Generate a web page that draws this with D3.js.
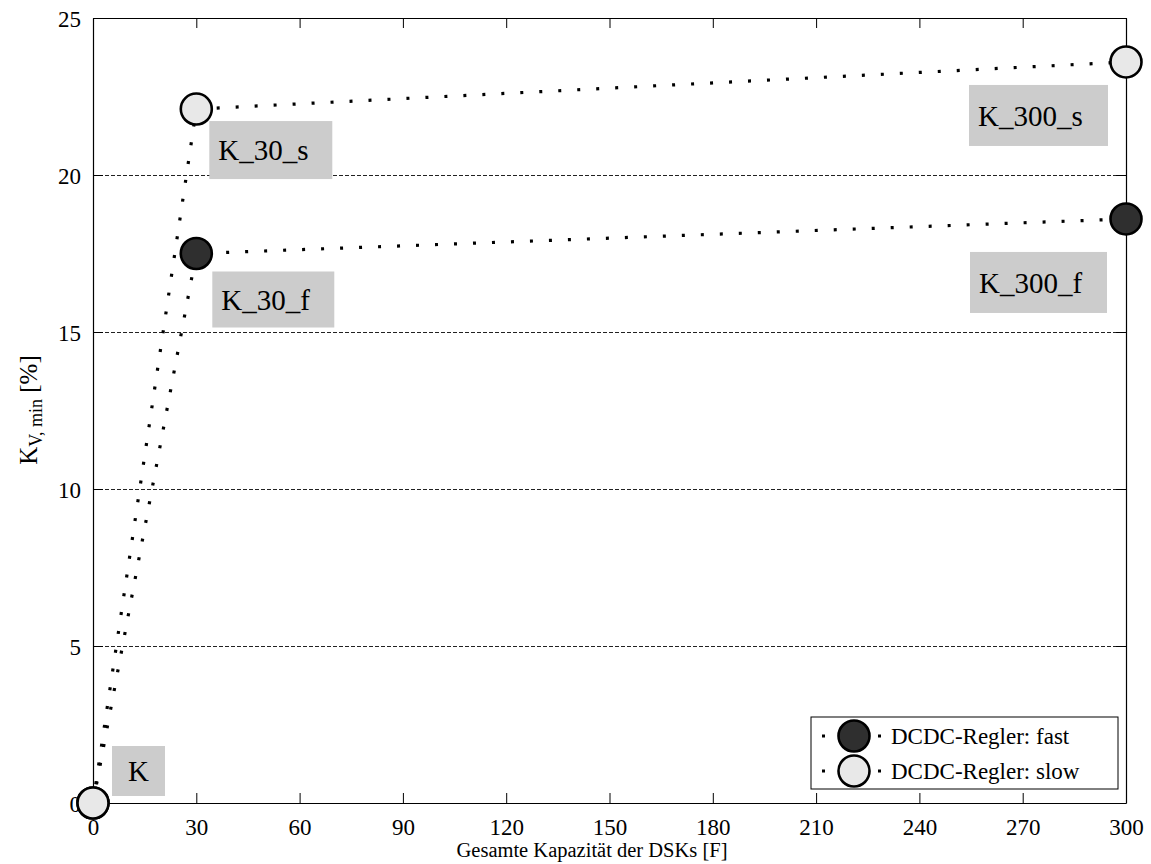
<!DOCTYPE html>
<html><head><meta charset="utf-8">
<script src="https://cdn.jsdelivr.net/npm/d3@7"></script>
<style>body{margin:0;background:#fff}svg{display:block;font-family:"Liberation Serif","Times New Roman",serif}</style>
</head><body>
<svg id="c" width="1151" height="864"></svg>
<script>
const capacities = [0, 30, 300];
const fastValues = [0, 17.5, 18.6];
const slowValues = [0, 22.1, 23.6];
const seriesNames = ["DCDC-Regler: fast", "DCDC-Regler: slow"];
const xTicks = [0, 30, 60, 90, 120, 150, 180, 210, 240, 270, 300];
const yTicks = [0, 5, 10, 15, 20, 25];
const gridValues = [5, 10, 15, 20];
const pointLabels = ["K", "K_30_s", "K_30_f", "K_300_s", "K_300_f"];
const xTitle = "Gesamte Kapazität der DSKs [F]";

(function () {
const svg = d3.select("#c");
const L = 93, R = 1126, T = 18, B = 803;
const x = d3.scaleLinear().domain([0, 300]).range([L, R]);
const y = d3.scaleLinear().domain([0, 25]).range([B, T]);

// grid
svg.append("g").selectAll("line").data(gridValues).join("line")
  .attr("x1", L).attr("x2", R).attr("y1", d => Math.round(y(d)) + 0.5).attr("y2", d => Math.round(y(d)) + 0.5)
  .attr("stroke", "#222").attr("stroke-width", 1).attr("stroke-dasharray", "4,2");

// axes
const tl = 10;
const gB = svg.append("g").attr("transform", `translate(0,${B})`)
  .call(d3.axisBottom(x).tickValues(xTicks).tickSizeInner(-tl).tickSizeOuter(0).tickPadding(16));
const gT = svg.append("g").attr("transform", `translate(0,${T})`)
  .call(d3.axisTop(x).tickValues(xTicks).tickSizeInner(-tl).tickSizeOuter(0).tickFormat(""));
const gL = svg.append("g").attr("transform", `translate(${L},0)`)
  .call(d3.axisLeft(y).tickValues(yTicks).tickSizeInner(-tl).tickSizeOuter(0).tickPadding(12));
const gR = svg.append("g").attr("transform", `translate(${R},0)`)
  .call(d3.axisRight(y).tickValues(yTicks).tickSizeInner(-tl).tickSizeOuter(0).tickFormat(""));
[gB, gT, gL, gR].forEach(g => {
  g.select(".domain").attr("stroke", "#000").attr("stroke-width", 1.2);
  g.selectAll(".tick line").attr("stroke", "#000").attr("stroke-width", 1);
  g.selectAll("text").attr("font-family", "Liberation Serif").attr("font-size", 23).attr("fill", "#000");
});
gL.selectAll(".tick text").attr("dy", "0.35em");

// titles
svg.append("text").attr("x", 592).attr("y", 857).attr("text-anchor", "middle")
  .attr("font-size", 20.5).text(xTitle);
const yt = svg.append("text").attr("transform", "translate(37,410) rotate(-90)")
  .attr("text-anchor", "middle").attr("font-size", 25);
yt.append("tspan").text("K");
yt.append("tspan").attr("font-size", 18).attr("dy", 5).text("V, min");
yt.append("tspan").attr("dy", -5).text(" [%]");

// lines
const series = [
  {name: seriesNames[0], vals: fastValues, fill: "#2f2f2f"},
  {name: seriesNames[1], vals: slowValues, fill: "#e8e8e8"}
];
const line = d3.line().x(d => x(d[0])).y(d => y(d[1]));
series.forEach(s => {
  svg.append("path").datum(capacities.map((c, i) => [c, s.vals[i]]))
    .attr("d", line).attr("fill", "none").attr("stroke", "#000")
    .attr("stroke-width", 3.2).attr("stroke-dasharray", "3,16");
});
series.forEach(s => {
  svg.append("g").selectAll("circle").data(capacities.map((c, i) => [c, s.vals[i]])).join("circle")
    .attr("cx", d => x(d[0])).attr("cy", d => y(d[1])).attr("r", 15.5)
    .attr("fill", s.fill).attr("stroke", "#000").attr("stroke-width", 2.6);
});

// labels
const labelAnchors = [
  {c: 0, v: slowValues[0], dx: 19, dy: -57, w: 53, h: 50, align: "left"},
  {c: 30, v: slowValues[1], dx: 13, dy: 12, w: 123, h: 58, align: "left"},
  {c: 30, v: fastValues[1], dx: 16, dy: 18, w: 122, h: 56, align: "left"},
  {c: 300, v: slowValues[2], dx: -18, dy: 23, w: 139, h: 61, align: "right"},
  {c: 300, v: fastValues[2], dx: -19, dy: 33, w: 137, h: 61, align: "right"}
];
pointLabels.forEach((t, i) => {
  const a = labelAnchors[i];
  const px = x(a.c), py = y(a.v);
  const bx = a.align === "left" ? px + a.dx : px + a.dx - a.w;
  const by = py + a.dy;
  svg.append("rect").attr("x", bx).attr("y", by).attr("width", a.w).attr("height", a.h).attr("fill", "#cccccc");
  svg.append("text").attr("x", i === 0 ? bx + a.w / 2 : bx + 9).attr("y", by + a.h / 2).attr("dy", "0.35em")
    .attr("text-anchor", i === 0 ? "middle" : "start").attr("font-size", 29).text(t);
});

// legend
const lg = svg.append("g");
lg.append("rect").attr("x", 811).attr("y", 717).attr("width", 307).attr("height", 72)
  .attr("fill", "#fff").attr("stroke", "#000").attr("stroke-width", 1);
series.forEach((s, i) => {
  const cy = 736 + i * 35;
  lg.append("line").attr("x1", 822).attr("x2", 886).attr("y1", cy).attr("y2", cy)
    .attr("stroke", "#000").attr("stroke-width", 3.2).attr("stroke-dasharray", "3,53");
  lg.append("circle").attr("cx", 854).attr("cy", cy).attr("r", 15.5)
    .attr("fill", s.fill).attr("stroke", "#000").attr("stroke-width", 2.6);
  lg.append("text").attr("x", 891).attr("y", cy).attr("dy", "0.35em").attr("font-size", 23).text(s.name);
});
})();
</script>
</body></html>
